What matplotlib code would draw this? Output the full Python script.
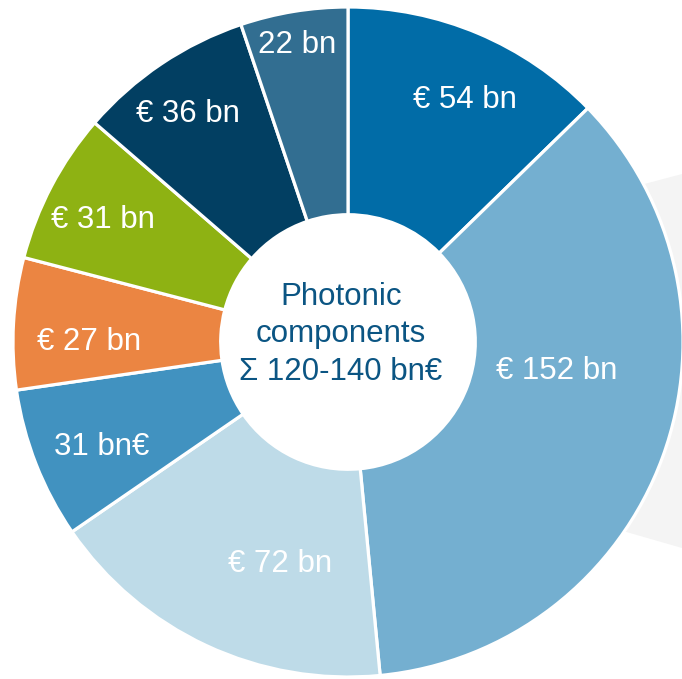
import matplotlib
matplotlib.use('Agg')
import matplotlib.pyplot as plt
from matplotlib.patches import Polygon
from matplotlib import rc

rc('font', **{'family': ['Liberation Sans', 'DejaVu Sans'], 'size': 22.5})

# segment values (bn EUR), clockwise from 12 o'clock
values = [54, 152, 72, 31, 27, 31, 36, 22]
labels = ['€ 54 bn', '€ 152 bn', '€ 72 bn', '31 bn€', '€ 27 bn', '€ 31 bn', '€ 36 bn', '22 bn']
colors = ['#016ca7', '#74afd0', '#bedbe8', '#4192c0', '#eb8542', '#8eb213', '#023f62', '#326e91']
center_lines = ['Photonic', 'components', 'Σ 120-140 bn€']

# label anchor points (centre x, baseline y) in pie units
label_pos = [(0.349, 0.699), (0.624, -0.110), (-0.203, -0.687), (-0.736, -0.337),
             (-0.772, -0.024), (-0.731, 0.340), (-0.479, 0.657), (-0.151, 0.863)]
center_y = [0.110, 0.0, -0.113]

W, H = 682, 679
fig = plt.figure(figsize=(W / 100, H / 100), dpi=100)

# light grey panel peeking out behind the ring
grey = Polygon([(550 / W, 1 - 209 / H), (1.0, 1 - 174 / H), (1.0, 1 - 548 / H), (550 / W, 1 - 510 / H)],
               closed=True, transform=fig.transFigure, facecolor='#f4f4f4', edgecolor='none', zorder=-5)
fig.patches.append(grey)

ax = fig.add_axes([13 / W, 2 / H, 670 / W, 670 / H])
ax.set_zorder(2)
ax.patch.set_visible(False)
ax.pie(values, colors=colors, startangle=90, counterclock=False, radius=1.0,
       wedgeprops={'width': 0.62, 'edgecolor': 'white', 'linewidth': 2.3})
ax.set_xlim(-1, 1)
ax.set_ylim(-1, 1)
ax.axis('off')

for lab, (x, y) in zip(labels, label_pos):
    ax.text(x, y, lab, ha='center', va='baseline', color='white', fontsize=22.5)

for line, y in zip(center_lines, center_y):
    ax.text(-0.021, y, line, ha='center', va='baseline', color='#0b5583', fontsize=22.5)

fig.savefig('out.png', dpi=100)
